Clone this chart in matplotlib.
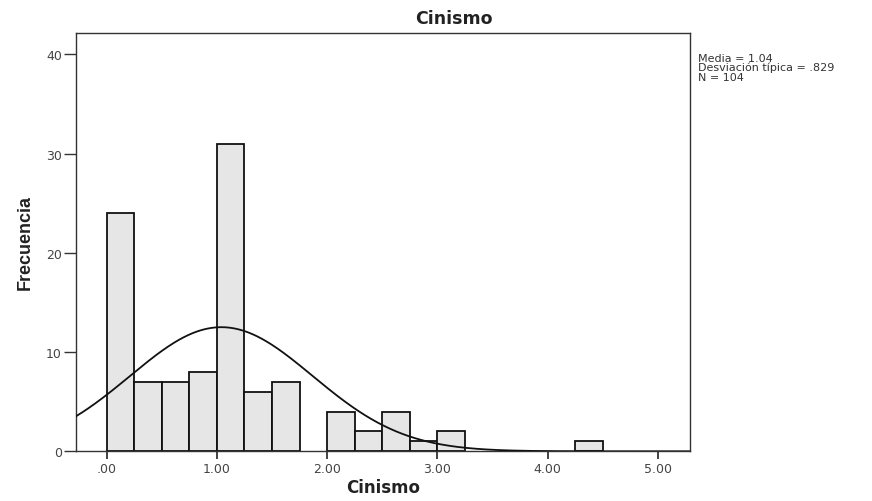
import numpy as np
import matplotlib
matplotlib.use("Agg")
import matplotlib.pyplot as plt

# histogram bins (left edge) and counts
bin_left = [0.00, 0.25, 0.50, 0.75, 1.00, 1.25, 1.50, 1.75, 2.00, 2.25, 2.50,
            2.75, 3.00, 3.25, 3.50, 3.75, 4.00, 4.25]
counts = [24, 7, 7, 8, 31, 6, 7, 0, 4, 2, 4, 1, 2, 0, 0, 0, 0, 1]
bin_width = 0.25

media = 1.04
desv = 0.829
n = 104

xticks = [0, 1, 2, 3, 4, 5]
xtick_labels = [".00", "1.00", "2.00", "3.00", "4.00", "5.00"]
yticks = [0, 10, 20, 30, 40]

fig = plt.figure(figsize=(8.72, 5.02), dpi=100)
ax = fig.add_axes([0.087, 0.099, 0.704, 0.834])

xs = [b for b, c in zip(bin_left, counts) if c > 0]
hs = [c for c in counts if c > 0]
ax.bar(xs, hs, width=bin_width, align="edge", color="#e6e6e6",
       edgecolor="#111111", linewidth=1.3, zorder=2)

# curva normal con media, desviacion y N
xmin, xmax = -0.28, 5.29
xc = np.linspace(xmin, xmax, 400)
yc = n * bin_width / (desv * np.sqrt(2 * np.pi)) * np.exp(-0.5 * ((xc - media) / desv) ** 2)
ax.plot(xc, yc, color="#111111", lw=1.3, zorder=3)

ax.set_xlim(xmin, xmax)
ax.set_ylim(0, 42.2)
ax.set_xticks(xticks)
ax.set_xticklabels(xtick_labels)
ax.set_yticks(yticks)
for sp in ax.spines.values():
    sp.set_color("#333333")
    sp.set_linewidth(1.0)
ax.tick_params(axis="x", direction="out", length=6, width=1.2, pad=2,
               labelsize=9, labelcolor="#444444", color="#222222")
ax.tick_params(axis="y", direction="out", length=9, width=1.0, pad=1,
               labelsize=9, labelcolor="#444444", color="#333333")

ax.set_xlabel("Cinismo", fontsize=12, fontweight="bold", color="#222222",
              labelpad=2)
ax.set_ylabel("Frecuencia", fontsize=13, fontweight="bold", color="#222222",
              family="Liberation Sans", labelpad=9)
fig.text(0.52, 0.962, "Cinismo", ha="center", va="center", fontsize=12.5,
         fontweight="bold", color="#222222")

fig.text(0.801, 0.893, "Media = 1.04\nDesviación típica = .829\nN = 104",
         ha="left", va="top", fontsize=8, color="#333333", linespacing=0.9)

fig.savefig("out.png", dpi=100)
